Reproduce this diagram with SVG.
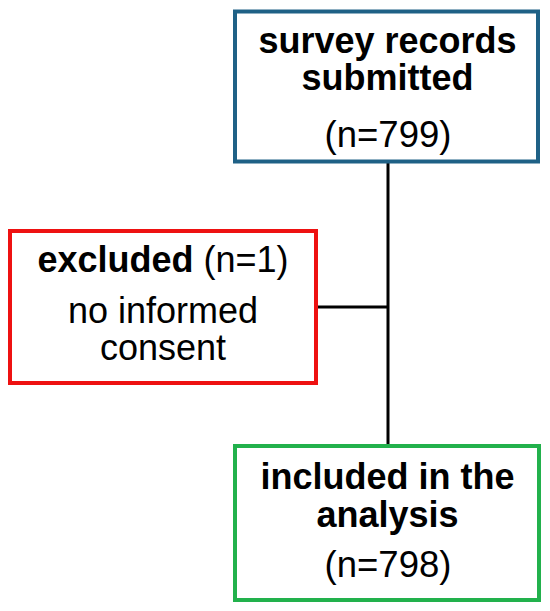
<svg xmlns="http://www.w3.org/2000/svg" width="550" height="611" viewBox="0 0 550 611">
<style>
.box{fill:#fff;stroke-width:4}
.t{font-family:"Liberation Sans",Arial,sans-serif;font-size:36px;fill:#000;text-anchor:middle}
.b{font-weight:bold}
.n{font-size:36.5px}
.c{stroke:#000;stroke-width:3;fill:none}
</style>
<rect width="550" height="611" fill="#fff"/>
<g id="connectors">
<line class="c" x1="388" y1="162" x2="388" y2="446"/>
<line class="c" x1="316" y1="307" x2="388" y2="307"/>
</g>
<g id="submitted">
<rect class="box" x="235" y="11.5" width="303" height="150" stroke="#1f6186"/>
<text class="t b" x="387.5" y="53">survey records</text>
<text class="t b" x="387.5" y="90">submitted</text>
<text class="t n" x="388" y="147">(n=799)</text>
</g>
<g id="excluded">
<rect class="box" x="10" y="231" width="306" height="152" stroke="#ee1111"/>
<text class="t" x="163" y="272"><tspan class="b">excluded</tspan> (n=1)</text>
<text class="t" x="163" y="323">no informed</text>
<text class="t" x="163" y="360">consent</text>
</g>
<g id="included">
<rect class="box" x="235" y="446" width="304" height="154" stroke="#22b14c"/>
<text class="t b" x="387.5" y="488.5">included in the</text>
<text class="t b" x="387.5" y="527">analysis</text>
<text class="t n" x="388" y="577">(n=798)</text>
</g>
</svg>
